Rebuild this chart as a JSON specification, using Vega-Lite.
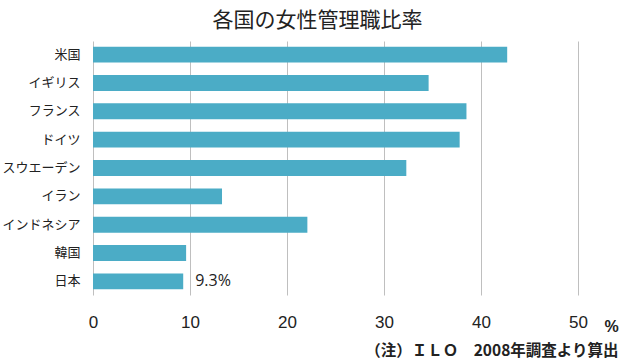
{
  "$schema": "https://vega.github.io/schema/vega-lite/v6.json",
  "autosize": "none",
  "padding": {"left": 93, "top": 41, "right": 52, "bottom": 67},
  "width": 485,
  "height": 254,
  "background": "white",
  "title": {
    "text": "各国の女性管理職比率",
    "font": "Noto Sans CJK JP",
    "fontSize": 21,
    "fontWeight": "normal",
    "color": "#222222",
    "anchor": "middle",
    "dx": -18,
    "offset": 10
  },
  "data": {
    "values": [
      {"country": "米国", "rate": 42.7, "label": ""},
      {"country": "イギリス", "rate": 34.6, "label": ""},
      {"country": "フランス", "rate": 38.5, "label": ""},
      {"country": "ドイツ", "rate": 37.8, "label": ""},
      {"country": "スウエーデン", "rate": 32.3, "label": ""},
      {"country": "イラン", "rate": 13.3, "label": ""},
      {"country": "インドネシア", "rate": 22.1, "label": ""},
      {"country": "韓国", "rate": 9.6, "label": ""},
      {"country": "日本", "rate": 9.3, "label": "9.3%"}
    ]
  },
  "config": {
    "view": {"stroke": null},
    "axis": {"domain": false, "ticks": false, "tickSize": 0}
  },
  "encoding": {
    "y": {
      "field": "country",
      "type": "nominal",
      "sort": null,
      "scale": {"paddingInner": 0.44, "paddingOuter": 0.2},
      "axis": {
        "title": "（注）ＩＬＯ　2008年調査より算出",
        "titleAngle": 0,
        "titleX": 525,
        "titleY": 309,
        "titleAlign": "right",
        "titleBaseline": "middle",
        "titleFont": "Noto Sans CJK JP",
        "titleFontSize": 15.5,
        "titleFontWeight": "bold",
        "titleColor": "#222222",
        "labelFont": "Noto Sans CJK JP",
        "labelFontSize": 13,
        "labelColor": "#222222",
        "labelPadding": 13,
        "grid": false
      }
    },
    "x": {
      "field": "rate",
      "type": "quantitative",
      "scale": {"domain": [0, 50], "nice": false},
      "axis": {
        "values": [0, 10, 20, 30, 40, 50],
        "grid": true,
        "gridColor": "#bfbfbf",
        "gridWidth": 1,
        "labelFlush": false,
        "labelFont": "Liberation Sans",
        "labelFontSize": 17,
        "labelColor": "#222222",
        "labelPadding": 19,
        "title": "%",
        "titleX": 518,
        "titleY": 31,
        "titleAlign": "center",
        "titleBaseline": "middle",
        "titleFont": "Liberation Sans",
        "titleFontSize": 16,
        "titleFontWeight": "bold",
        "titleColor": "#222222"
      }
    }
  },
  "layer": [
    {"mark": {"type": "bar", "color": "#4bacc6"}},
    {
      "mark": {"type": "text", "align": "left", "baseline": "middle", "dx": 12, "font": "Open Sans", "fontSize": 16, "color": "#222222"},
      "encoding": {"text": {"field": "label"}}
    }
  ]
}
